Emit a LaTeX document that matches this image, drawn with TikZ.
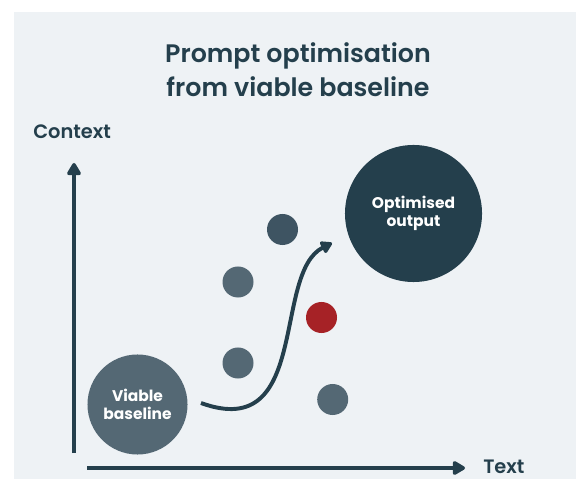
\documentclass[tikz,border=0pt]{standalone}
\usepackage{fontspec}
\setmainfont{Poppins SemiBold}[BoldFont={Poppins Bold}]
\usetikzlibrary{arrows.meta}
\definecolor{navy}{HTML}{243F4C}
\definecolor{slate}{HTML}{546874}
\definecolor{slatedark}{HTML}{3E5462}
\definecolor{crimson}{HTML}{A62226}
\definecolor{paper}{HTML}{EEF2F5}

\begin{document}
\begin{tikzpicture}[x=0.025cm,y=0.025cm,every text node part/.style={align=center},
axis/.style={navy,line width=2.8pt,-{Triangle[length=10pt,width=11pt,round]}},
flow/.style={navy,line width=2.8pt,-{Triangle[length=9pt,width=10pt,round]}},
blob/.style={circle,inner sep=0pt,text=white,font=\bfseries\fontsize{11}{12.5}\selectfont},
dot/.style={circle,inner sep=0pt,minimum size=0.775cm},
axislabel/.style={text=navy,font=\fontsize{13.8}{15}\selectfont,inner sep=0pt}]
\useasboundingbox (0,0) rectangle (576,479);
\fill[paper] (14,0) rectangle (576,467);
\node [text=navy,font=\fontsize{18}{24}\selectfont] (title) at (298,409) {Prompt optimisation\\from viable baseline};
\node [axislabel,anchor=base west] (context) at (33,340) {Context};
\node [axislabel,anchor=base west] (text) at (483,6) {Text};
\coordinate (ybot) at (74,26);
\coordinate (ytop) at (74,316);
\coordinate (xleft) at (87,11);
\coordinate (xright) at (465,11);
\draw [axis] (ybot) -- (ytop);
\draw [axis] (xleft) -- (xright);
\node [blob,fill=slate,minimum size=2.5cm] (baseline) at (137.5,74.5) {Viable\\baseline};
\node [blob,fill=navy,minimum size=3.425cm] (optimised) at (413.5,265.5) {Optimised\\output};
\node [dot,fill=slatedark] (p1) at (282.5,249.5) {};
\node [dot,fill=slate] (p2) at (238,197) {};
\node [dot,fill=crimson] (p3) at (321.5,161.5) {};
\node [dot,fill=slate] (p4) at (238,116) {};
\node [dot,fill=slate] (p5) at (332.7,79.5) {};
\coordinate (start) at (201,76);
\coordinate (finish) at (332,236);
\draw [flow] (start) .. controls +(110,-40) and +(-60,-30) .. (finish);
\end{tikzpicture}
\end{document}
